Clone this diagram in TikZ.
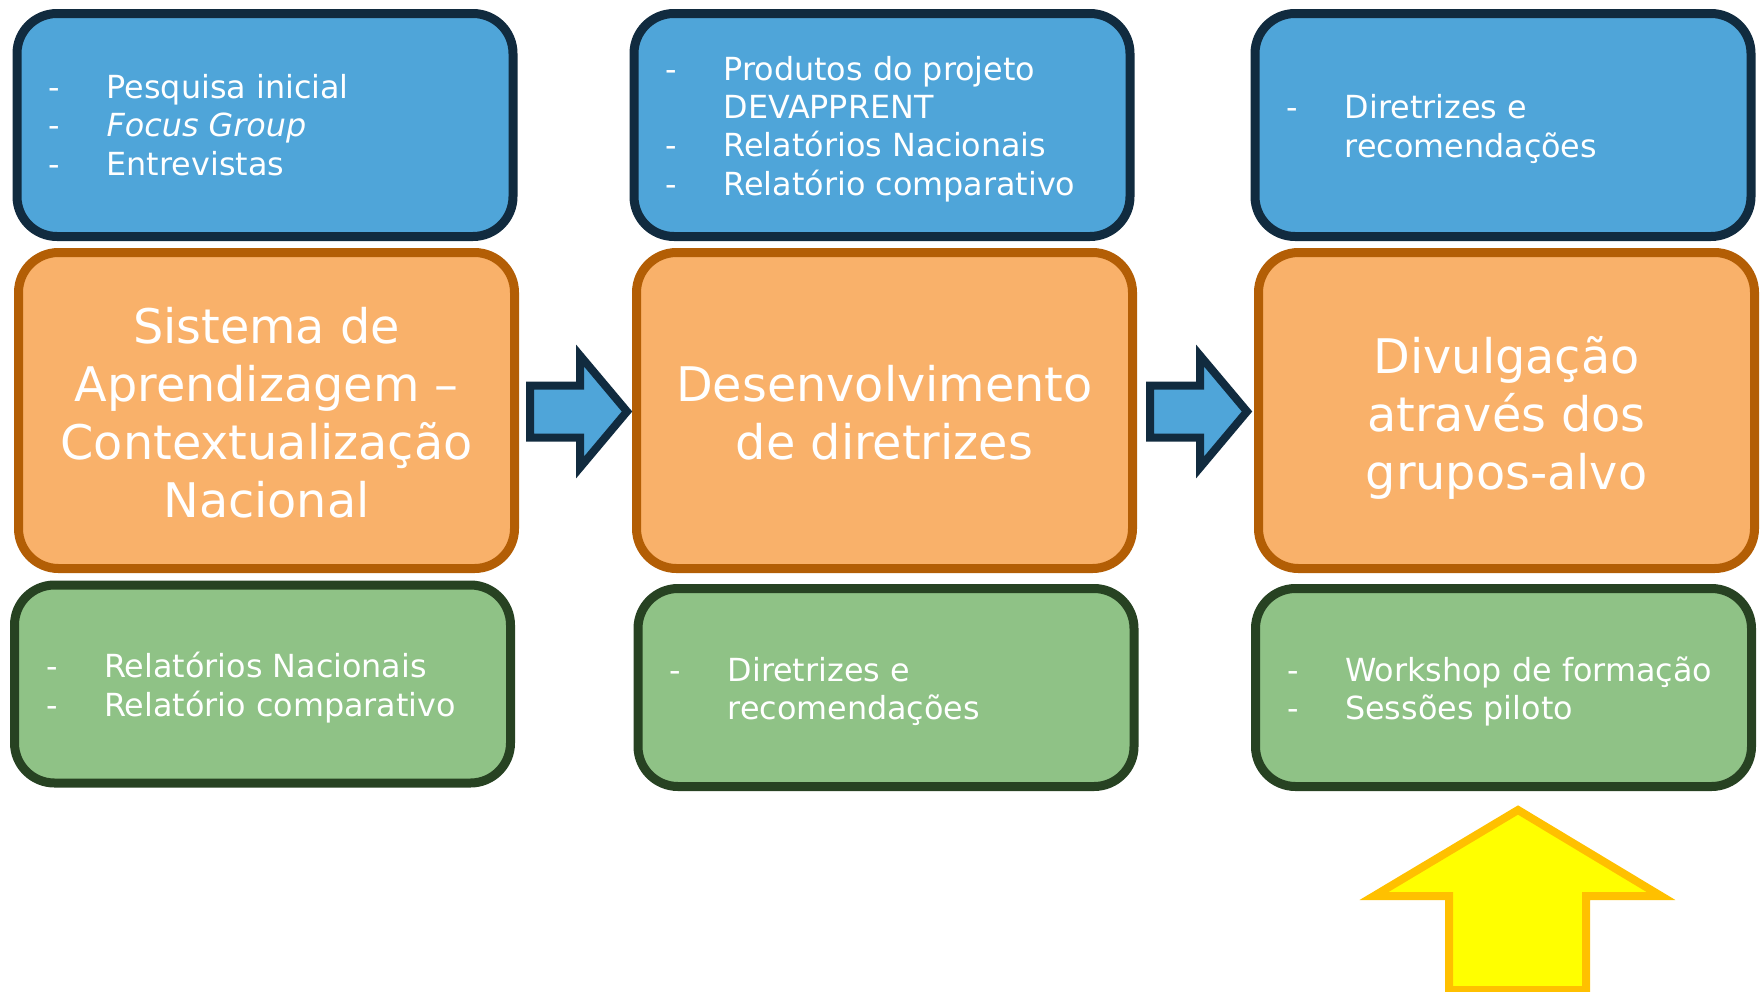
\documentclass[tikz,border=0pt]{standalone}
\usepackage{fontspec}
\setmainfont{DejaVu Sans}
\usetikzlibrary{calc}

\definecolor{bluefill}{HTML}{4FA5D9}
\definecolor{blueline}{HTML}{112B3F}
\definecolor{orangefill}{HTML}{F9B16A}
\definecolor{orangeline}{HTML}{B35E05}
\definecolor{greenfill}{HTML}{8FC286}
\definecolor{greenline}{HTML}{274222}
\definecolor{arrowyellow}{HTML}{FFFF00}
\definecolor{arrowgold}{HTML}{FFC000}

\newcommand{\itm}[1]{\makebox[58pt][l]{-}#1}

\tikzset{
  box/.style={rounded corners=40pt, line width=9pt, minimum width=496pt},
  topbox/.style={box, draw=blueline, fill=bluefill, minimum height=223pt},
  midbox/.style={box, draw=orangeline, fill=orangefill, minimum height=316pt},
  lowbox/.style={box, draw=greenline, fill=greenfill, minimum height=198pt},
  title/.style={text=white, align=center, inner sep=0pt,
    font=\fontsize{47.7}{58}\selectfont},
  txt/.style={text=white, anchor=west, align=left, inner sep=0pt,
    font=\fontsize{31.8}{38.3}\selectfont},
  blockarrow/.pic={\draw[line width=8pt, miter limit=10, draw=blueline, fill=bluefill]
    (-46,-26) -- (4,-26) -- (4,-56) -- (51,0) -- (4,56) -- (4,26) -- (-46,26) -- cycle;},
  uparrow/.pic={\draw[line width=8pt, miter limit=10, draw=arrowgold, fill=arrowyellow]
    (0,0) -- (143,86) -- (68,86) -- (68,180) -- (-69,180) -- (-69,86) -- (-144,86) -- cycle;},
}

\begin{document}
\begin{tikzpicture}[x=1pt,y=-1pt]
\useasboundingbox (0,0) rectangle (1762,991);
\clip (0,0) rectangle (1762,991);

%top row
\node[topbox] (B1) at (265,125) {};
\node[topbox] (B2) at (882,125) {};
\node[topbox] (B3) at (1503,125) {};

%middle row
\node[midbox] (O1) at (266.5,410.5) {};
\node[midbox] (O2) at (884.5,410.5) {};
\node[midbox] (O3) at (1506.5,410.5) {};

%bottom row
\node[lowbox] (G1) at (262.5,684) {};
\node[lowbox] (G2) at (886,687.5) {};
\node[lowbox] (G3) at (1503.5,687.5) {};

%titles
\node[title] (O1t) at ([yshift=-2pt]O1.center) {Sistema de\\Aprendizagem –\\Contextualização\\Nacional};
\node[title] (O2t) at ([yshift=-2pt]O2.center) {Desenvolvimento\\de diretrizes};
\node[title] (O3t) at ([yshift=-7pt]O3.center) {Divulgação\\através dos\\grupos-alvo};

%lists
\node[txt] (B1t) at ([xshift=36pt]B1.west) {\itm{Pesquisa inicial}\\\itm{\textit{Focus Group}}\\\itm{Entrevistas}};
\node[txt] (B2t) at ([xshift=36pt,yshift=-4pt]B2.west) {\itm{Produtos do projeto}\\\hspace*{58pt}DEVAPPRENT\\\itm{Relatórios Nacionais}\\\itm{Relatório comparativo}};
\node[txt] (B3t) at ([xshift=36pt,yshift=-4pt]B3.west) {\itm{Diretrizes e}\\\hspace*{58pt}recomendações};
\node[txt] (G1t) at ([xshift=36pt,yshift=-3.5pt]G1.west) {\itm{Relatórios Nacionais}\\\itm{Relatório comparativo}};
\node[txt] (G2t) at ([xshift=36pt,yshift=-4pt]G2.west) {\itm{Diretrizes e}\\\hspace*{58pt}recomendações};
\node[txt] (G3t) at ([xshift=36pt,yshift=-4pt]G3.west) {\itm{Workshop de formação}\\\itm{Sessões piloto}};

%arrows
\pic at ($(O1.east)!.5!(O2.west)+(0.5,1)$) {blockarrow};
\pic at ($(O2.east)!.5!(O3.west)+(0.5,1)$) {blockarrow};
\pic at ($(G3.south)+(14.5,19)$) {uparrow};

\end{tikzpicture}
\end{document}
